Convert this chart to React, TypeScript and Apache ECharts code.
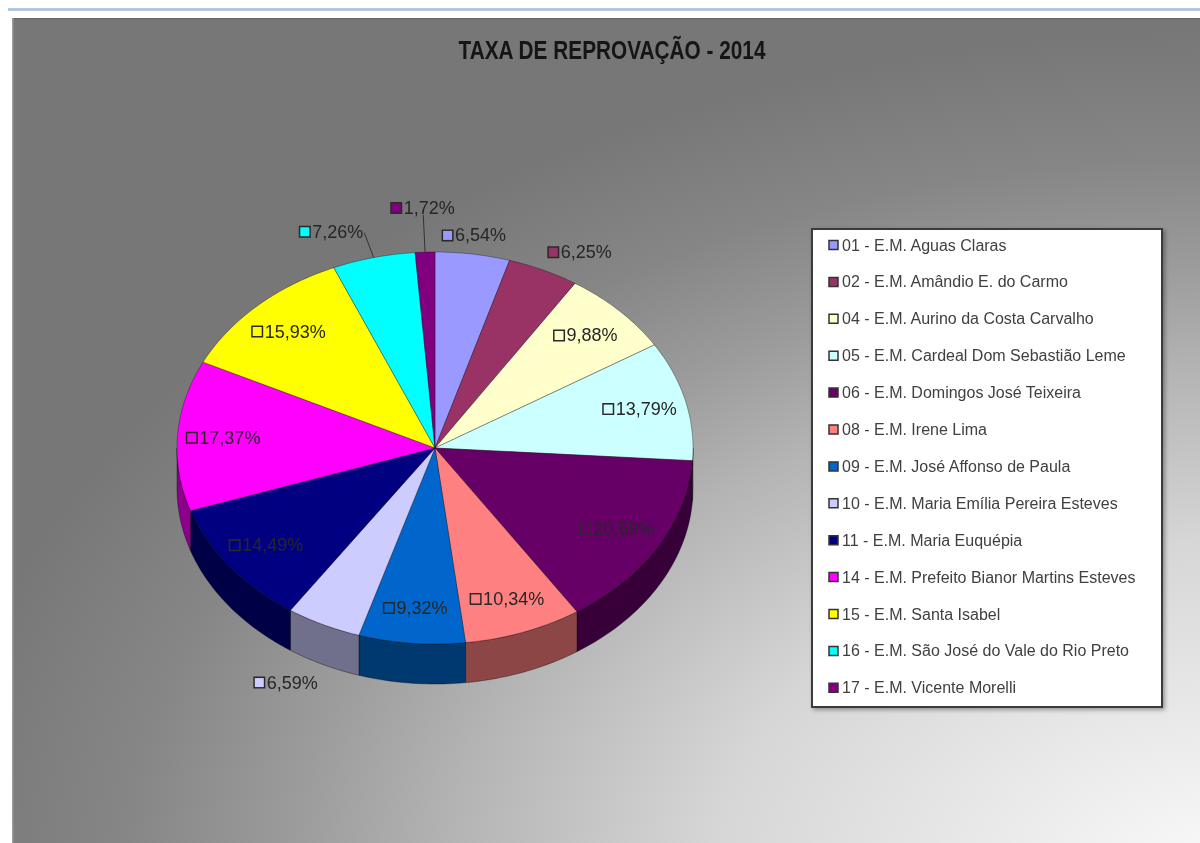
import React, { useEffect, useRef } from "react";
import * as echarts from "echarts";

const chartTitle = "TAXA DE REPROVAÇÃO - 2014";

const schools = [
  "01 - E.M. Aguas Claras",
  "02 - E.M. Amândio E. do Carmo",
  "04 - E.M. Aurino da Costa Carvalho",
  "05 - E.M. Cardeal Dom Sebastião Leme",
  "06 - E.M. Domingos José Teixeira",
  "08 - E.M. Irene Lima",
  "09 - E.M. José Affonso de Paula",
  "10 - E.M. Maria Emília Pereira Esteves",
  "11 - E.M. Maria Euquépia",
  "14 - E.M. Prefeito Bianor Martins Esteves",
  "15 - E.M. Santa Isabel",
  "16 - E.M. São José do Vale do Rio Preto",
  "17 - E.M. Vicente Morelli",
];

const rates = [6.54, 6.25, 9.88, 13.79, 20.59, 10.34, 9.32, 6.59, 14.49, 17.37, 15.93, 7.26, 1.72];

const sliceColors = [
  "#9999FF", "#993366", "#FFFFCC", "#CCFFFF", "#660066", "#FF8080", "#0066CC",
  "#CCCCFF", "#000080", "#FF00FF", "#FFFF00", "#00FFFF", "#800080",
];

// geometry of the 3D pie (pixels)
const PIE = { cx: 435, cy: 448, rx: 258, ry: 196, depth: 40 };
const FONT = "'Liberation Sans', Arial, sans-serif";

const total = rates.reduce((s, v) => s + v, 0);
const cumStart = rates.map((_, i) => rates.slice(0, i).reduce((s, v) => s + v, 0));

function shade(hex: string, f: number) {
  const n = parseInt(hex.slice(1), 16);
  const r = Math.round(((n >> 16) & 255) * f);
  const g = Math.round(((n >> 8) & 255) * f);
  const b = Math.round((n & 255) * f);
  return `rgb(${r},${g},${b})`;
}

function pt(t: number, f: number, dy = 0): number[] {
  return [PIE.cx + PIE.rx * f * Math.sin(t), PIE.cy - PIE.ry * f * Math.cos(t) + dy];
}

function arcPoints(a0: number, a1: number, f: number, dy: number) {
  const n = Math.max(2, Math.ceil((a1 - a0) / (Math.PI / 180)));
  const pts: number[][] = [];
  for (let k = 0; k <= n; k++) pts.push(pt(a0 + ((a1 - a0) * k) / n, f, dy));
  return pts;
}

function angles(i: number, v: number) {
  const a0 = (cumStart[i] / total) * Math.PI * 2;
  const a1 = a0 + (v / total) * Math.PI * 2;
  return [a0, a1];
}

const fmt = (v: number) => v.toFixed(2).replace(".", ",") + "%";

function renderSlice(params: any, api: any) {
  const i = params.dataIndex;
  const v = api.value(0) as number;
  const [a0, a1] = angles(i, v);
  const color = sliceColors[i];
  const children: any[] = [];
  const w0 = Math.max(a0, Math.PI / 2);
  const w1 = Math.min(a1, (Math.PI * 3) / 2);
  if (w1 > w0) {
    const top = arcPoints(w0, w1, 1, 0);
    const bottom = arcPoints(w0, w1, 1, PIE.depth).reverse();
    children.push({
      type: "polygon",
      shape: { points: top.concat(bottom) },
      style: { fill: shade(color, 0.55), stroke: "rgba(0,0,0,0.45)", lineWidth: 0.8 },
    });
  }
  children.push({
    type: "polygon",
    shape: { points: [[PIE.cx, PIE.cy]].concat(arcPoints(a0, a1, 1, 0)) },
    style: { fill: color, stroke: "rgba(0,0,0,0.4)", lineWidth: 0.8 },
  });
  return { type: "group", children };
}

function renderLabel(params: any, api: any) {
  const i = params.dataIndex;
  const v = api.value(0) as number;
  const [a0, a1] = angles(i, v);
  const m = (a0 + a1) / 2;
  const s = Math.sin(m);
  const c = Math.cos(m);
  const children: any[] = [];
  let pos: number[];
  let align = "center";
  let vAlign = "middle";
  if (v >= 8) {
    pos = pt(m, 0.82);
  } else {
    align = s > 0.2 ? "left" : s < -0.2 ? "right" : "center";
    const leader = s < 0 && c > 0;
    const f = leader ? (Math.abs(s) < 0.2 ? 1.18 : 1.12) : 1.05;
    if (c >= 0) {
      vAlign = "bottom";
      pos = pt(m, f);
    } else {
      vAlign = "top";
      pos = pt(m, f, PIE.depth);
    }
    if (leader) {
      const p0 = pt(m, 1.0);
      children.push({
        type: "polyline",
        shape: { points: [p0, [pos[0] - (align === "right" ? 2 : 0), pos[1] - 2]] },
        style: { stroke: "#333", lineWidth: 1, fill: null },
      });
      if (align === "right") pos = [pos[0] - 3, pos[1] + 6];
    }
  }
  children.push({
    type: "text",
    x: pos[0],
    y: pos[1],
    style: {
      text: `{m|}{t|${fmt(v)}}`,
      align,
      verticalAlign: vAlign,
      rich: {
        m: {
          width: 9,
          height: 9,
          backgroundColor: sliceColors[i],
          borderColor: "#2a2a2a",
          borderWidth: 1.5,
          verticalAlign: "middle",
        },
        t: {
          fontSize: 18,
          fontFamily: FONT,
          fill: "#262626",
          padding: [0, 0, 0, 3],
          verticalAlign: "middle",
        },
      },
    },
  });
  return { type: "group", children };
}

// background gradient (elliptical radial, via vertically scaled rect)
const GS = 850 / 1300;
const bgGradient = {
  type: "radial",
  x: 1230,
  y: 880 / GS,
  r: 1300,
  global: true,
  colorStops: [
    { offset: 0, color: "#fbfbfb" },
    { offset: 0.4, color: "#d6d6d6" },
    { offset: 0.6, color: "#b4b4b4" },
    { offset: 0.72, color: "#9c9c9c" },
    { offset: 0.85, color: "#868686" },
    { offset: 1, color: "#777777" },
  ],
};

const LEG = { x: 812, y: 229, w: 350, h: 478, rowY: 245, rowH: 36.9 };

const legendElements: any[] = [
  {
    type: "rect",
    shape: { x: LEG.x, y: LEG.y, width: LEG.w, height: LEG.h },
    style: {
      fill: "#ffffff",
      stroke: "#3a3a3a",
      lineWidth: 2,
      shadowBlur: 4,
      shadowColor: "rgba(0,0,0,0.35)",
      shadowOffsetX: 2,
      shadowOffsetY: 2,
    },
  },
];
schools.forEach((name, i) => {
  const y = LEG.rowY + i * LEG.rowH;
  legendElements.push({
    type: "rect",
    shape: { x: 829, y: y - 4.5, width: 9, height: 9 },
    style: { fill: sliceColors[i], stroke: "#333", lineWidth: 1.5 },
  });
  legendElements.push({
    type: "text",
    x: 842,
    y,
    style: {
      text: name,
      font: `16px ${FONT}`,
      fill: "#404040",
      verticalAlign: "middle",
      align: "left",
    },
  });
});

const option: any = {
  animation: false,
  graphic: {
    elements: [
      { type: "rect", shape: { x: 0, y: 0, width: 1200, height: 843 }, style: { fill: "#ffffff" } },
      { type: "rect", shape: { x: 8, y: 8, width: 1192, height: 3 }, style: { fill: "#b4c6e2" } },
      {
        type: "rect",
        scaleY: GS,
        shape: { x: 12, y: 18 / GS, width: 1188, height: 825 / GS },
        style: { fill: bgGradient },
      },
      { type: "rect", shape: { x: 12, y: 18, width: 1188, height: 1.5 }, style: { fill: "#6a6a6a" } },
      { type: "rect", shape: { x: 12, y: 18, width: 1.5, height: 825 }, style: { fill: "#9a9a9a" } },
      {
        type: "text",
        x: 612,
        y: 50,
        scaleX: 0.8,
        style: {
          text: chartTitle,
          font: `bold 26px ${FONT}`,
          fill: "#151515",
          align: "center",
          verticalAlign: "middle",
        },
      },
      ...legendElements,
    ],
  },
  series: [
    {
      type: "custom",
      name: "faces",
      coordinateSystem: "none",
      silent: true,
      z: 2,
      data: rates,
      renderItem: renderSlice,
    },
    {
      type: "custom",
      name: "labels",
      coordinateSystem: "none",
      silent: true,
      z: 3,
      data: rates,
      renderItem: renderLabel,
    },
  ],
};

export default function App() {
  const ref = useRef<HTMLDivElement>(null);
  useEffect(() => {
    const chart = echarts.init(ref.current!, null, { renderer: "svg" });
    chart.setOption(option);
    return () => chart.dispose();
  }, []);
  return (
    <div
      ref={ref}
      style={{ position: "fixed", left: 0, top: 0, width: 1200, height: 843 }}
    />
  );
}
